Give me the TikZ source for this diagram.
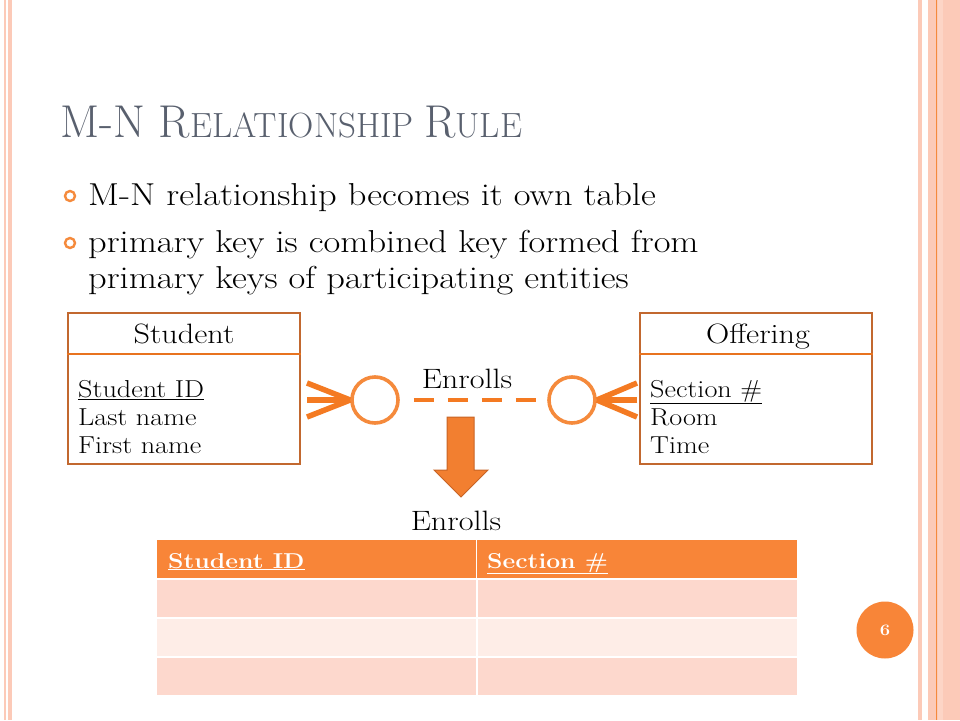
\documentclass[tikz,border=0pt]{standalone}
\usepackage{fontspec}
\setmainfont{Latin Modern Roman}[FakeStretch=1.15]
\newfontfamily\titlefont{Latin Modern Roman}
\usetikzlibrary{calc}
\definecolor{salmon}{HTML}{FCCAB8}
\definecolor{salmonlt}{HTML}{FDD5C6}
\definecolor{orng}{HTML}{F47A22}
\definecolor{ringc}{HTML}{F58A3C}
\definecolor{boxbrd}{HTML}{C2682F}
\definecolor{divline}{HTML}{E8731F}
\definecolor{titlegray}{HTML}{59606E}
\definecolor{hdr}{HTML}{F88538}
\definecolor{rowA}{HTML}{FDD8CD}
\definecolor{rowB}{HTML}{FEEDE7}
\definecolor{arrfill}{HTML}{F27F30}
\definecolor{arrbrd}{HTML}{C86425}
\tikzset{
  txt/.style={inner sep=0pt, anchor=base west, font=\fontsize{31.7}{36}\selectfont},
  boxtxt/.style={inner sep=0pt, anchor=base west, font=\fontsize{24.5}{28}\selectfont},
  boxhead/.style={inner sep=0pt, anchor=base, font=\fontsize{28}{32}\selectfont},
  entbox/.style={draw=boxbrd, line width=2.8pt, minimum width=232pt, minimum height=151pt, inner sep=0pt},
  bulletring/.style={circle, draw=ringc, line width=2.4pt, minimum size=10pt, inner sep=0pt},
  foot/.style={draw=orng, line width=5.5pt},
  relcirc/.style={circle, draw=ringc, line width=3.6pt, minimum size=46pt, inner sep=0pt},
  lbl/.style={inner sep=0pt, anchor=base, font=\fontsize{28}{32}\selectfont},
  hdrtxt/.style={inner sep=0pt, anchor=base west, text=white, font=\fontsize{21.5}{25}\selectfont\bfseries},
}
\begin{document}
\begin{tikzpicture}[x=1pt,y=-1pt]
\fill[white] (0,0) rectangle (960,720);
\useasboundingbox (0,0) rectangle (960,720);
% side stripes
\fill[salmon] (4,0) rectangle (5.5,720);
\fill[salmon] (7.5,0) rectangle (11.5,720);
\fill[salmon] (918,0) rectangle (921.5,720);
\fill[salmon] (928,0) rectangle (960,720);
\fill[salmonlt] (937.5,0) rectangle (943,720);
\draw[ringc, line width=1.2pt] (936.5,0) -- (936.5,720);
% title
\node[inner sep=0pt, anchor=base west, text=titlegray] (title) at (60,137)
  {\titlefont\fontsize{46}{52}\selectfont M-N R\fontsize{35}{40}\selectfont ELATIONSHIP \fontsize{46}{52}\selectfont R\fontsize{35}{40}\selectfont ULE};
% bullets
\node[bulletring] (b1) at (70,196) {};
\node[bulletring] (b2) at (70,243) {};
\node[txt] (t1) at (88,205) {M-N relationship becomes it own table};
\node[txt] (t2) at (88,252) {primary key is combined key formed from};
\node[txt] (t3) at (88,288) {primary keys of participating entities};
% entity boxes
\node[entbox] (student) at (184,388.5) {};
\draw[divline, line width=2.8pt] (student.west |- 0,354) -- (student.east |- 0,354);
\node[boxhead] (sname) at (184,343) {Student};
\node[boxtxt] (s1) at (78,397) {\underline{Student ID}};
\node[boxtxt] (s2) at (78,425) {Last name};
\node[boxtxt] (s3) at (78,453) {First name};
\node[entbox] (offering) at (756,388.5) {};
\draw[divline, line width=2.8pt] (offering.west |- 0,354) -- (offering.east |- 0,354);
\node[boxhead] (oname) at (758,343) {Offering};
\node[boxtxt] (o1) at (650,397) {\underline{Section \#}};
\node[boxtxt] (o2) at (650,425) {Room};
\node[boxtxt] (o3) at (650,453) {Time};
% relationship
\node[relcirc] (cL) at (375,400) {};
\node[relcirc] (cR) at (572,400) {};
\coordinate (fL1) at (307,383);
\coordinate (fL2) at (307,400);
\coordinate (fL3) at (307,417);
\coordinate (fR1) at (637,383);
\coordinate (fR2) at (637,400);
\coordinate (fR3) at (637,417);
\draw[foot] (fL1) -- (cL.west);
\draw[foot] (fL2) -- (cL.west);
\draw[foot] (fL3) -- (cL.west);
\draw[foot] (fR1) -- (cR.east);
\draw[foot] (fR2) -- (cR.east);
\draw[foot] (fR3) -- (cR.east);
\draw[orng, line width=4.5pt, dash pattern=on 20pt off 14pt, shorten <=14pt, shorten >=9pt] (cL.east) -- (cR.west);
\node[lbl] (rel) at (467,388) {Enrolls};
% down arrow
\draw[fill=arrfill, draw=arrbrd, line width=1pt, line join=miter]
  (447,417) -- (474,417) -- (474,470) -- (488,470) -- (461,497) -- (434,470) -- (447,470) -- cycle;
\node[lbl] (tabname) at (456,530) {Enrolls};
% table
\fill[hdr] (157,540) rectangle (797,578);
\draw[white, line width=1.5pt] (476.5,540) -- (476.5,578);
\fill[rowA] (157,580) rectangle (797,617);
\fill[rowB] (157,619) rectangle (797,656);
\fill[rowA] (157,658) rectangle (797,695);
\draw[white, line width=2pt] (476.5,580) -- (476.5,695);
\node[hdrtxt] (h1) at (168,568) {\underline{Student ID}};
\node[hdrtxt] (h2) at (487,568) {\underline{Section \#}};
% page number
\node[circle, fill=hdr, minimum size=57pt, inner sep=0pt, text=white, font=\fontsize{16}{18}\selectfont\bfseries] (pg) at (885,630) {6};
\end{tikzpicture}
\end{document}
